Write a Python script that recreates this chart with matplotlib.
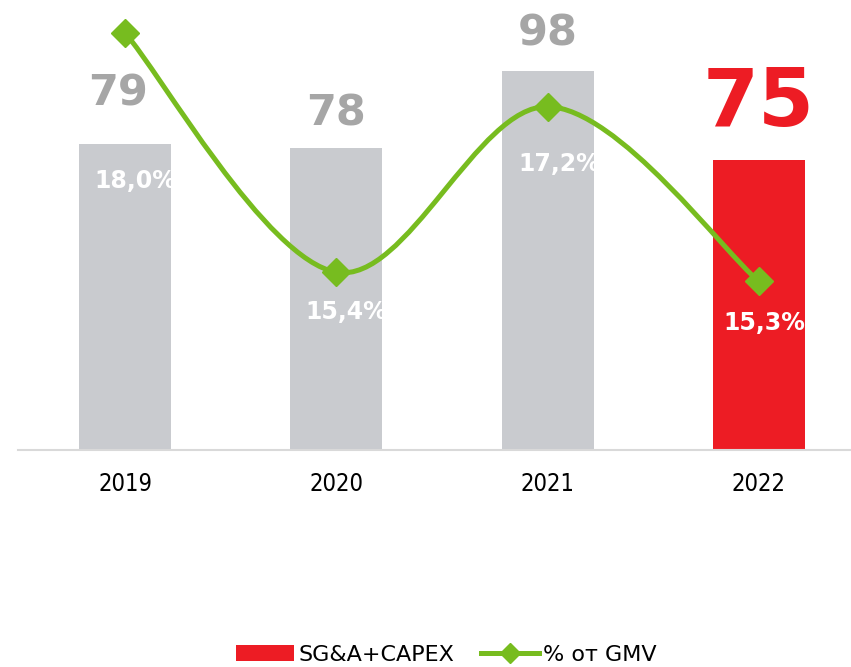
import matplotlib.pyplot as plt
from matplotlib.path import Path
from matplotlib.patches import PathPatch, Patch
from matplotlib.lines import Line2D

years = ["2019", "2020", "2021", "2022"]
costs = [79, 78, 98, 75]
pct_gmv = [18.0, 15.4, 17.2, 15.3]
pct_labels = ["18,0%", "15,4%", "17,2%", "15,3%"]

GRAY_BAR = "#C9CBCF"
GRAY_TEXT = "#A6A6A6"
RED = "#ED1C24"
GREEN = "#77BC1F"


def smooth_path(xs, ys):
    # Catmull-Rom style bezier, like Excel's "smoothed line"
    pts = list(zip(xs, ys))
    n = len(pts)
    verts = [pts[0]]
    codes = [Path.MOVETO]
    for i in range(n - 1):
        p0 = pts[max(i - 1, 0)]
        p1 = pts[i]
        p2 = pts[i + 1]
        p3 = pts[min(i + 2, n - 1)]
        c1 = (p1[0] + (p2[0] - p0[0]) / 6, p1[1] + (p2[1] - p0[1]) / 6)
        c2 = (p2[0] - (p3[0] - p1[0]) / 6, p2[1] - (p3[1] - p1[1]) / 6)
        verts += [c1, c2, p2]
        codes += [Path.CURVE4] * 3
    return Path(verts, codes)


def main():
    fig = plt.figure(figsize=(8.51, 6.67), dpi=100)
    ax = fig.add_axes([18 / 851, 217 / 667, 833 / 851, 450 / 667])
    x = list(range(len(years)))

    colors = [GRAY_BAR] * (len(years) - 1) + [RED]
    ax.bar(x, costs, width=0.436, color=colors, zorder=2)
    ax.set_xlim(-0.507, 3.436)
    ax.set_ylim(0, 116.3)

    for s in ["top", "right", "left"]:
        ax.spines[s].set_visible(False)
    ax.spines["bottom"].set_color("#D9D9D9")
    ax.spines["bottom"].set_linewidth(1.5)
    ax.set_yticks([])
    ax.set_xticks(x)
    ax.set_xticklabels(years, family="DejaVu Sans", stretch="condensed", fontsize=17)
    ax.tick_params(axis="x", length=0, pad=16)

    # value labels above bars
    val_offsets = [(-7, 51), (0, 35), (0, 37), (0, 56)]
    for i, v in enumerate(costs):
        last = i == len(costs) - 1
        dx, dy = val_offsets[i]
        ax.annotate(str(v), xy=(i, v), xytext=(dx * 0.72, dy * 0.72),
                    textcoords="offset points", ha="center", va="center",
                    fontsize=58 if last else 31, fontweight="bold",
                    color=RED if last else GRAY_TEXT, zorder=5)

    ax2 = ax.twinx()
    ax2.set_ylim(13.467, 18.359)
    ax2.axis("off")
    ax2.add_patch(PathPatch(smooth_path(x, pct_gmv), fill=False,
                            edgecolor=GREEN, linewidth=3.6, zorder=3))
    ax2.plot(x, pct_gmv, linestyle="none", marker="D", markersize=14,
             color=GREEN, zorder=4)

    pct_offsets = [(-31, 148), (-31, 40), (-29, 57), (-36, 42)]
    for i, (v, lab) in enumerate(zip(pct_gmv, pct_labels)):
        dx, dy = pct_offsets[i]
        ax2.annotate(lab, xy=(i, v), xytext=(dx * 0.72, -dy * 0.72),
                     textcoords="offset points", ha="left", va="center",
                     fontsize=17, fontweight="bold", color="white", zorder=6)

    handles = [
        Patch(facecolor=RED, edgecolor="none"),
        Line2D([0], [0], color=GREEN, linewidth=3.6, marker="D", markersize=10),
    ]
    fig.legend(handles, ["SG&A+CAPEX", "% от GMV"], loc="center",
               bbox_to_anchor=(0.525, 12 / 667), ncol=2, frameon=False,
               fontsize=16, handlelength=2.6, handleheight=0.7,
               handletextpad=0.2, columnspacing=1.2)

    fig.savefig("out.png", dpi=100)


if __name__ == "__main__":
    main()
